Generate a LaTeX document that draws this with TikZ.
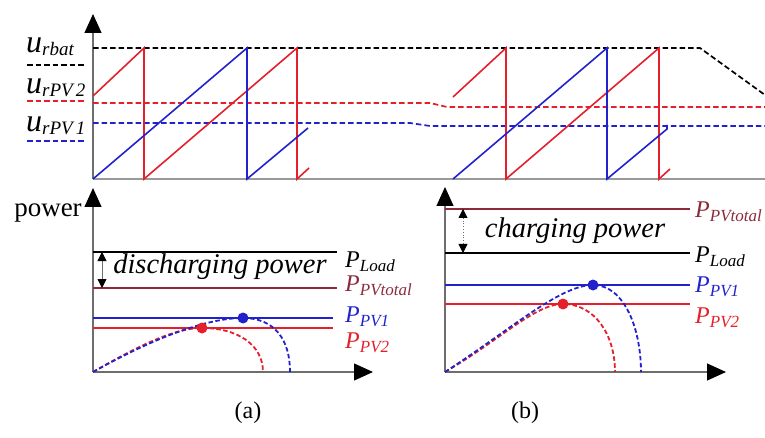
\documentclass[tikz,border=0pt]{standalone}
\usepackage{fontspec}
\setmainfont{Liberation Serif}
\usetikzlibrary{arrows.meta}
\definecolor{sred}{HTML}{E3202B}
\definecolor{sblue}{HTML}{2222CC}
\definecolor{maroon}{HTML}{8C2A3C}
\definecolor{axisgray}{HTML}{6E6E6E}
\tikzset{
  axis/.style={draw=axisgray,line width=1.1pt,-{Triangle[width=17pt,length=19pt,black]}},
  baseaxis/.style={draw=axisgray!70,line width=1.1pt},
  saw/.style={line width=1.6pt,line join=miter},
  refline/.style={line width=1.7pt,dash pattern=on 5.5pt off 3pt},
  level/.style={line width=1.4pt},
  pvcurve/.style={line width=1.8pt,dash pattern=on 4.5pt off 2.5pt},
  span/.style={draw=axisgray,line width=0.8pt,{Triangle[width=9pt,length=9pt,black]}-{Triangle[width=9pt,length=9pt,black]}},
  mpp/.style={circle,inner sep=0pt,minimum size=11pt},
  ulabel/.style={font=\fontsize{32}{34}\selectfont,inner sep=0pt,anchor=base west},
  plabel/.style={font=\fontsize{24}{26}\selectfont,inner sep=0pt,anchor=base west},
  bigtext/.style={font=\fontsize{28.5}{30}\selectfont\itshape,inner sep=0pt},
  caption/.style={font=\fontsize{24}{26}\selectfont,inner sep=0pt},
}
% letter with a lowered italic index: {letter}{index}{index size}{drop}
\newcommand{\sub}[4]{\textit{#1}\raisebox{-#4pt}{\fontsize{#3}{#3}\selectfont\itshape #2}}

\begin{document}
\begin{tikzpicture}[x=1pt,y=-1pt]
\useasboundingbox (0,0) rectangle (765,438);

% top: reference voltages and sawtooth carriers
\coordinate (o1) at (93,179);
\draw[baseaxis] (o1) -- (765,179);
\draw[axis] (o1) -- (93,14);

\draw[refline,black] (o1 |- 0,48) -- (700,48) -- (765,95);
\draw[refline,sred] (93,103) -- (430,103) -- (447,107) -- (765,107);
\draw[refline,sblue] (93,123) -- (410,123) -- (430,126) -- (765,126);

\draw[saw,sred] (93,96) -- (144,48) -- (144,179) -- (297,48) -- (297,179) -- (309,168);
\draw[saw,sblue] (o1) -- (247,48) -- (247,179) -- (308,128);
\draw[saw,sred] (453,97) -- (506,48) -- (506,179) -- (659,48) -- (659,179) -- (670,169);
\draw[saw,sblue] (453,179) -- (607,48) -- (607,179) -- (667,129) -- (667,125);

\node[ulabel] (ubat) at (26,53) {\sub{u}{rbat}{19}{3}};
\node[ulabel] (upv2) at (26,94) {\sub{u}{rPV\,2}{19}{3}};
\node[ulabel] (upv1) at (26,132) {\sub{u}{rPV\,1}{19}{3}};
\draw[refline,black] (27,65) -- (85,65);
\draw[refline,sred] (27,101) -- (85,101);
\draw[refline,sblue] (27,141) -- (85,141);

% (a) discharging
\coordinate (oa) at (93,372);
\draw[axis] (oa) -- (93,188);
\draw[axis] (oa) -- (373,372);
\node[font=\fontsize{27}{30}\selectfont,inner sep=0pt] (power) at (48,213) {power};

\draw[level,black] (93,252) coordinate (la) -- (337,252);
\draw[level,maroon] (93,288) coordinate (ta) -- (337,288);
\draw[level,sblue] (93,318) -- (333,318);
\draw[level,sred] (93,328) -- (333,328);
\draw[span] (la -| 102,0) -- (ta -| 102,0);
\node[bigtext] (dis) at (220,267) {discharging power};

\draw[pvcurve,sred] (oa) .. controls (140,345) and (175,328) .. (202,328)
  .. controls (238,328) and (263,345) .. (263,372);
\draw[pvcurve,sblue] (oa) .. controls (150,340) and (205,318) .. (243,318)
  .. controls (275,318) and (290,340) .. (290,372);
\node[mpp,fill=sblue] (mppa1) at (243,318) {};
\node[mpp,fill=sred] (mppa2) at (202,328) {};

\node[plabel] (loada) at (345,267) {\sub{P}{Load}{17}{4}};
\node[plabel,text=maroon] (tota) at (345,291) {\sub{P}{PVtotal}{17}{4}};
\node[plabel,text=sblue] (pv1a) at (345,322) {\sub{P}{PV1}{17}{4}};
\node[plabel,text=sred] (pv2a) at (345,348) {\sub{P}{PV2}{17}{4}};

% (b) charging
\coordinate (ob) at (445,372);
\draw[axis] (ob) -- (445,187);
\draw[axis] (ob) -- (726,372);

\draw[level,maroon] (445,209) coordinate (tb) -- (690,209);
\draw[level,black] (445,253) coordinate (lb) -- (690,253);
\draw[level,sblue] (445,285) -- (690,285);
\draw[level,sred] (445,304) -- (690,304);
\draw[span,dotted] (tb -| 463,0) -- (lb -| 463,0);
\node[bigtext] (chg) at (575,231) {charging power};

\draw[pvcurve,sred] (ob) .. controls (500,340) and (535,304) .. (563,304)
  .. controls (595,304) and (615,335) .. (615,372);
\draw[pvcurve,sblue] (ob) .. controls (510,330) and (560,285) .. (593,285)
  .. controls (625,285) and (641,330) .. (641,372);
\node[mpp,fill=sblue] (mppb1) at (593,285) {};
\node[mpp,fill=sred] (mppb2) at (563,304) {};

\node[plabel,text=maroon] (totb) at (695,218) {\sub{P}{PVtotal}{17}{4}};
\node[plabel] (loadb) at (695,262) {\sub{P}{Load}{17}{4}};
\node[plabel,text=sblue] (pv1b) at (695,292) {\sub{P}{PV1}{17}{4}};
\node[plabel,text=sred] (pv2b) at (695,323) {\sub{P}{PV2}{17}{4}};

\node[caption] (capa) at (248,413) {(a)};
\node[caption] (capb) at (525,413) {(b)};
\end{tikzpicture}
\end{document}
